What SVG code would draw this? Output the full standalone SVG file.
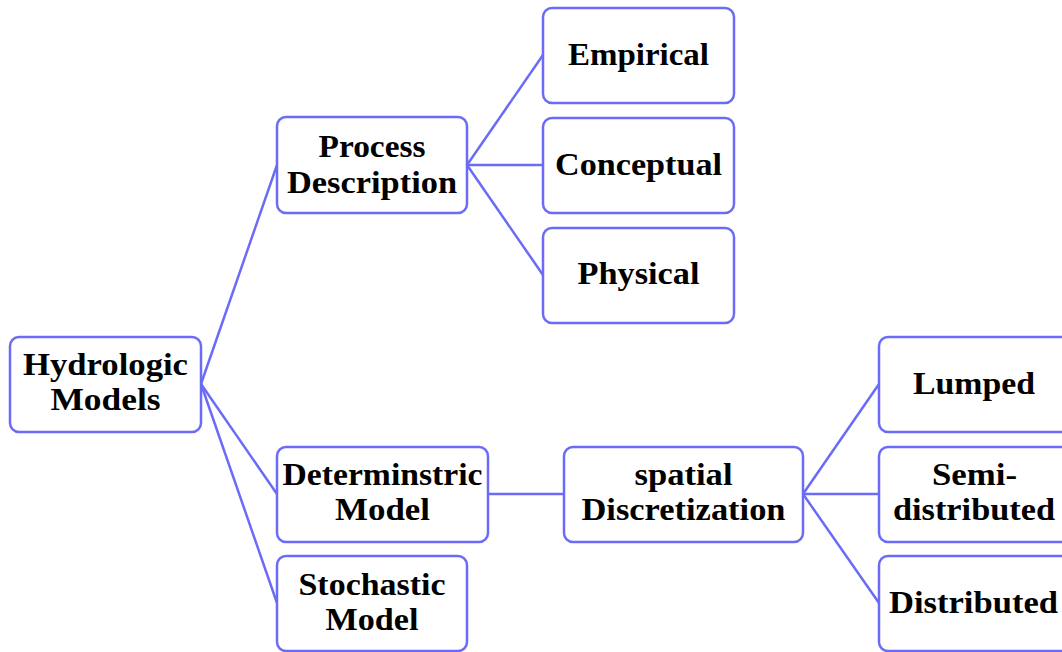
<svg xmlns="http://www.w3.org/2000/svg" width="1062" height="652" viewBox="0 0 1062 652">
  <style>
    .box { fill: #ffffff; stroke: #6b6bf7; stroke-width: 2.5; }
    .link { fill: none; stroke: #6b6bf7; stroke-width: 2.5; }
    .label { font-family: "Liberation Serif", "Times New Roman", serif; font-weight: bold; font-size: 32px; fill: #000000; text-anchor: middle; }
  </style>
  <rect width="1062" height="652" fill="#ffffff"/>

  <g id="connectors">
    <line class="link" x1="201" y1="384" x2="277" y2="165"/>
    <line class="link" x1="201" y1="384" x2="277" y2="494"/>
    <line class="link" x1="201" y1="384" x2="277" y2="603"/>
    <line class="link" x1="467" y1="165" x2="543" y2="55"/>
    <line class="link" x1="467" y1="165" x2="543" y2="165"/>
    <line class="link" x1="467" y1="165" x2="543" y2="275"/>
    <line class="link" x1="488" y1="494" x2="564" y2="494"/>
    <line class="link" x1="803" y1="494" x2="879" y2="384"/>
    <line class="link" x1="803" y1="494" x2="879" y2="494"/>
    <line class="link" x1="803" y1="494" x2="879" y2="603"/>
  </g>

  <g id="hydrologic-models">
    <rect class="box" x="10" y="337" width="191" height="95" rx="9"/>
    <text class="label" x="105.5" y="375" textLength="165" lengthAdjust="spacingAndGlyphs">Hydrologic</text>
    <text class="label" x="105.5" y="410" textLength="110" lengthAdjust="spacingAndGlyphs">Models</text>
  </g>

  <g id="process-description">
    <rect class="box" x="277" y="117" width="190" height="96" rx="9"/>
    <text class="label" x="372" y="157" textLength="107" lengthAdjust="spacingAndGlyphs">Process</text>
    <text class="label" x="372" y="193" textLength="170" lengthAdjust="spacingAndGlyphs">Description</text>
  </g>

  <g id="empirical">
    <rect class="box" x="543" y="8" width="191" height="95" rx="9"/>
    <text class="label" x="638.5" y="65" textLength="141" lengthAdjust="spacingAndGlyphs">Empirical</text>
  </g>

  <g id="conceptual">
    <rect class="box" x="543" y="118" width="191" height="95" rx="9"/>
    <text class="label" x="638.5" y="175" textLength="167" lengthAdjust="spacingAndGlyphs">Conceptual</text>
  </g>

  <g id="physical">
    <rect class="box" x="543" y="228" width="191" height="95" rx="9"/>
    <text class="label" x="638.5" y="284" textLength="122" lengthAdjust="spacingAndGlyphs">Physical</text>
  </g>

  <g id="deterministic-model">
    <rect class="box" x="277" y="447" width="211" height="95" rx="9"/>
    <text class="label" x="382.5" y="485" textLength="200" lengthAdjust="spacingAndGlyphs">Determinstric</text>
    <text class="label" x="382.5" y="520" textLength="95" lengthAdjust="spacingAndGlyphs">Model</text>
  </g>

  <g id="stochastic-model">
    <rect class="box" x="277" y="556" width="190" height="95" rx="9"/>
    <text class="label" x="372" y="595" textLength="147" lengthAdjust="spacingAndGlyphs">Stochastic</text>
    <text class="label" x="372" y="630" textLength="93" lengthAdjust="spacingAndGlyphs">Model</text>
  </g>

  <g id="spatial-discretization">
    <rect class="box" x="564" y="447" width="239" height="95" rx="9"/>
    <text class="label" x="683.5" y="485" textLength="98" lengthAdjust="spacingAndGlyphs">spatial</text>
    <text class="label" x="683.5" y="520" textLength="204" lengthAdjust="spacingAndGlyphs">Discretization</text>
  </g>

  <g id="lumped">
    <rect class="box" x="879" y="337" width="191" height="95" rx="9"/>
    <text class="label" x="974" y="394" textLength="122" lengthAdjust="spacingAndGlyphs">Lumped</text>
  </g>

  <g id="semi-distributed">
    <rect class="box" x="879" y="447" width="191" height="95" rx="9"/>
    <text class="label" x="974.5" y="485" textLength="85" lengthAdjust="spacingAndGlyphs">Semi-</text>
    <text class="label" x="974" y="520" textLength="162" lengthAdjust="spacingAndGlyphs">distributed</text>
  </g>

  <g id="distributed">
    <rect class="box" x="879" y="556" width="191" height="95" rx="9"/>
    <text class="label" x="973.5" y="613" textLength="169" lengthAdjust="spacingAndGlyphs">Distributed</text>
  </g>
</svg>
